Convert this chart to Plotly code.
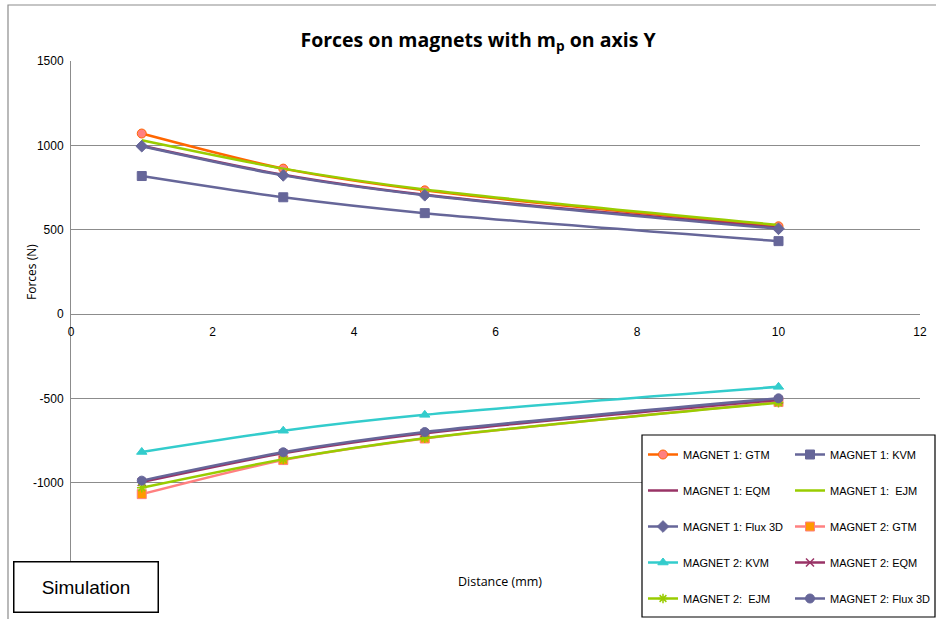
import plotly.graph_objects as go

# Dados
distancia = [1, 3, 5, 10]

m1_gtm = [1070, 862, 733, 520]
m1_kvm = [818, 692, 598, 432]
m1_eqm = [998, 826, 707, 512]
m1_ejm = [1030, 862, 738, 528]
m1_flux = [995, 822, 704, 505]

m2_gtm = [-1068, -866, -738, -522]
m2_kvm = [-818, -692, -598, -432]
m2_eqm = [-996, -826, -707, -510]
m2_ejm = [-1030, -862, -736, -526]
m2_flux = [-988, -820, -700, -500]

x_ticks = [0, 2, 4, 6, 8, 10, 12]
y_ticks = [-1500, -1000, -500, 0, 500, 1000, 1500]
y_labels = ['', '-1000', '-500', '0', '500', '1000', '1500']

W, H = 936, 619
L, R, T, B = 71, 16, 61, 52
PW, PH = W - L - R, H - T - B

GRID = '#8C8C8C'
NBSP = '\u00a0'
FONTE = 'Liberation Sans, Arial, sans-serif'
FONTE_TITULO = 'Open Sans, Lato, sans-serif'


def px(x):
    return (x - L) / PW


def py(y):
    return (H - B - y) / PH


series = [
    # nome, valores, cor linha, marcador, cor marcador, legenda
    ('MAGNET 1: GTM', m1_gtm, '#FF6600', 'circle', '#FF8080', 'legend'),
    ('MAGNET 1: KVM', m1_kvm, '#666699', 'square', '#666699', 'legend2'),
    ('MAGNET 1: EQM', m1_eqm, '#993366', None, None, 'legend'),
    ('MAGNET 1:' + NBSP + ' EJM', m1_ejm, '#99CC00', None, None, 'legend2'),
    ('MAGNET 1: Flux 3D', m1_flux, '#666699', 'diamond', '#666699', 'legend'),
    ('MAGNET 2: GTM', m2_gtm, '#FF8080', 'square', '#FF9900', 'legend2'),
    ('MAGNET 2: KVM', m2_kvm, '#33CCCC', 'triangle-up', '#33CCCC', 'legend'),
    ('MAGNET 2: EQM', m2_eqm, '#993366', 'x-thin-open', '#993366', 'legend2'),
    ('MAGNET 2:' + NBSP + ' EJM', m2_ejm, '#99CC00', 'asterisk-open', '#99CC00', 'legend'),
    ('MAGNET 2: Flux 3D', m2_flux, '#666699', 'circle', '#666699', 'legend2'),
]

fig = go.Figure()

for i, (nome, vals, cor, simb, cor_m, leg) in enumerate(series):
    if simb is None:
        marker = None
        mode = 'lines'
    else:
        open_sym = simb.endswith('open')
        marker = dict(
            symbol=simb, size=9 if not open_sym else 8,
            color=cor_m,
            line=dict(color=cor if not open_sym else cor_m, width=1.5 if open_sym else 1),
        )
        mode = 'lines+markers'
    fig.add_trace(go.Scatter(
        x=distancia, y=vals, name=nome, mode=mode,
        line=dict(color=cor, width=2.5, shape='spline', smoothing=0.8),
        marker=marker, legend=leg, legendgroup=f'g{i}',
    ))

legend_common = dict(
    bgcolor='rgba(0,0,0,0)', borderwidth=0,
    font=dict(family=FONTE, size=11, color='#000000'),
    tracegroupgap=17, xanchor='left', yanchor='top', itemwidth=30,
)

fig.update_layout(
    width=W, height=H,
    margin=dict(l=L, r=R, t=T, b=B, autoexpand=False),
    paper_bgcolor='white', plot_bgcolor='white',
    font=dict(family=FONTE, size=12, color='#000000'),
    title=dict(
        text='<b>Forces on magnets with m<sub>p</sub> on axis Y</b>',
        x=px(478), xanchor='center', xref='paper', y=1 - 40 / H, yanchor='middle',
        font=dict(family=FONTE_TITULO, size=19.5, color='#000000'),
    ),
    xaxis=dict(
        range=[0, 12], tickvals=x_ticks, showgrid=False, zeroline=False,
        showline=True, linecolor=GRID, linewidth=1,
        anchor='free', position=0.5, ticks='', ticklabelstandoff=7,
        tickfont=dict(size=12),
    ),
    yaxis=dict(
        range=[-1500, 1500], tickvals=y_ticks, ticktext=y_labels,
        showgrid=True, gridcolor=GRID,
        gridwidth=1, zeroline=False, showline=True, linecolor=GRID, linewidth=1,
        ticks='', ticklabelstandoff=4, tickfont=dict(size=12),
    ),
    legend=dict(x=px(643), y=py(440), **legend_common),
    legend2=dict(x=px(790), y=py(440), **legend_common),
    showlegend=True,
)

# Títulos dos eixos
fig.add_annotation(
    text='Distance (mm)', xref='paper', yref='paper', x=px(500), y=py(592),
    showarrow=False, font=dict(family=FONTE_TITULO, size=12.5),
)
fig.add_annotation(
    text='Forces (N)', xref='paper', yref='paper', x=px(31), y=py(272),
    xanchor='center', yanchor='middle',
    showarrow=False, textangle=-90, font=dict(family=FONTE_TITULO, size=12),
)

# Caixa "Simulation"
fig.add_annotation(
    text='Simulation', xref='paper', yref='paper',
    x=px(86), y=py(587), xanchor='center', yanchor='middle',
    showarrow=False, width=143, height=49, bgcolor='white',
    bordercolor='#000000', borderwidth=1.5, borderpad=0,
    font=dict(family=FONTE, size=19, color='#000000'),
)

# Caixa da legenda
fig.add_shape(
    type='rect', xref='paper', yref='paper',
    x0=px(642), x1=px(935), y0=py(617), y1=py(435),
    line=dict(color='#000000', width=1.2), fillcolor='white', layer='above',
)

# Borda externa do gráfico
fig.add_shape(
    type='rect', xref='paper', yref='paper',
    x0=px(8), x1=px(945), y0=py(630), y1=py(5),
    line=dict(color=GRID, width=1.2), fillcolor='rgba(0,0,0,0)', layer='below',
)

fig.write_html(
    'out.html',
    config={'displayModeBar': False},
    post_script="document.body.style.margin='0';document.body.style.overflow='hidden';",
)
